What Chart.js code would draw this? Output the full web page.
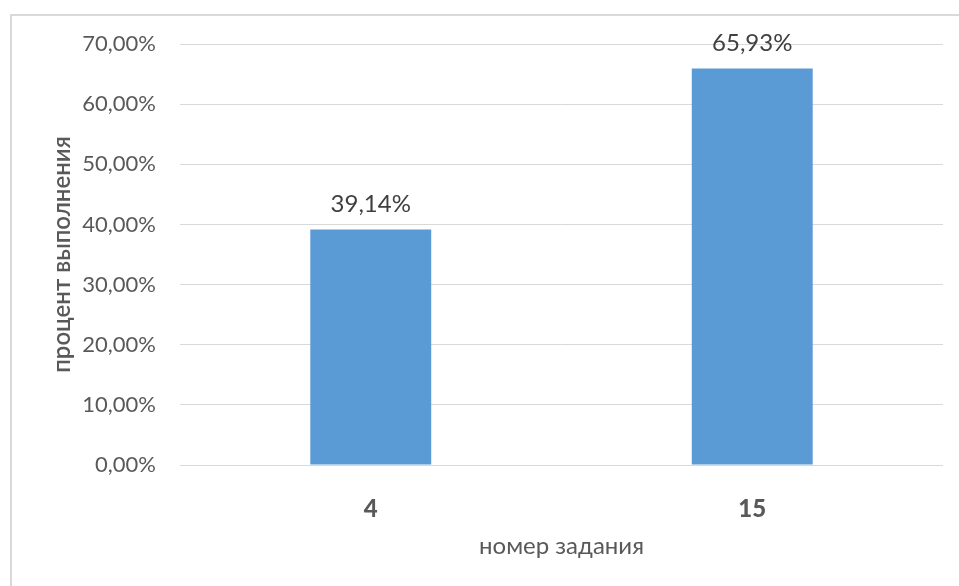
<!DOCTYPE html>
<html>
<head>
<meta charset="utf-8">
<script src="https://cdn.jsdelivr.net/npm/chart.js@4"></script>
<style>
  html, body { margin: 0; padding: 0; background: #fff; }
  #wrap { width: 959px; height: 586px; position: relative; }
</style>
</head>
<body>
<div id="wrap"><canvas id="chart" width="959" height="586"></canvas></div>
<script>
// values
const categories = ['4', '15'];
const completion = [0.3914, 0.6593];
const yTicks = [0, 0.1, 0.2, 0.3, 0.4, 0.5, 0.6, 0.7];

const FONT = 'Lato, "Open Sans", sans-serif';
const fmt = v => (v * 100).toFixed(2).replace('.', ',') + '%';

// outer frame of the chart (left + top edges only visible)
const frame = {
  id: 'frame',
  beforeDraw(chart) {
    const ctx = chart.ctx;
    ctx.save();
    ctx.strokeStyle = '#d9d9d9';
    ctx.lineWidth = 2;
    ctx.beginPath();
    ctx.moveTo(11, 586);
    ctx.lineTo(11, 15);
    ctx.lineTo(959, 15);
    ctx.stroke();
    ctx.restore();
  }
};

// value labels above the bars
const barLabels = {
  id: 'barLabels',
  afterDatasetsDraw(chart) {
    const ctx = chart.ctx;
    const meta = chart.getDatasetMeta(0);
    ctx.save();
    ctx.font = '24px ' + FONT;
    ctx.fillStyle = '#404040';
    ctx.textAlign = 'center';
    ctx.textBaseline = 'middle';
    meta.data.forEach((bar, i) => {
      ctx.fillText(fmt(completion[i]), bar.x, bar.y - 25);
    });
    ctx.restore();
  }
};

new Chart(document.getElementById('chart'), {
  type: 'bar',
  data: {
    labels: categories,
    datasets: [{
      data: completion,
      backgroundColor: '#5b9bd5',
      borderWidth: 0,
      barPercentage: 0.317,
      categoryPercentage: 1
    }]
  },
  options: {
    responsive: false,
    animation: false,
    layout: { padding: { left: 48, top: 44, right: 16, bottom: 0 } },
    plugins: { legend: { display: false }, tooltip: { enabled: false } },
    scales: {
      x: {
        grid: { display: false },
        border: { display: false },
        ticks: {
          color: '#595959',
          font: { family: FONT, size: 24, weight: 900 },
          padding: 22
        },
        title: {
          display: true,
          text: 'номер задания',
          color: '#595959',
          font: { family: FONT, size: 24 },
          padding: { top: 0, bottom: 25 }
        },
        afterFit(scale) { scale.height = 121; }
      },
      y: {
        min: 0,
        max: 0.7,
        afterBuildTicks(scale) { scale.ticks = yTicks.map(v => ({ value: v })); },
        grid: { color: '#d9d9d9', lineWidth: 1, drawTicks: false },
        border: { display: false },
        ticks: {
          color: '#595959',
          font: { family: FONT, size: 22 },
          padding: 24,
          callback: v => fmt(v)
        },
        title: {
          display: true,
          text: 'процент выполнения',
          color: '#595959',
          font: { family: FONT, size: 24, weight: 600 },
          padding: { top: 0, bottom: 0 }
        },
        afterFit(scale) { scale.width = 132; }
      }
    }
  },
  plugins: [frame, barLabels]
});
</script>
</body>
</html>
